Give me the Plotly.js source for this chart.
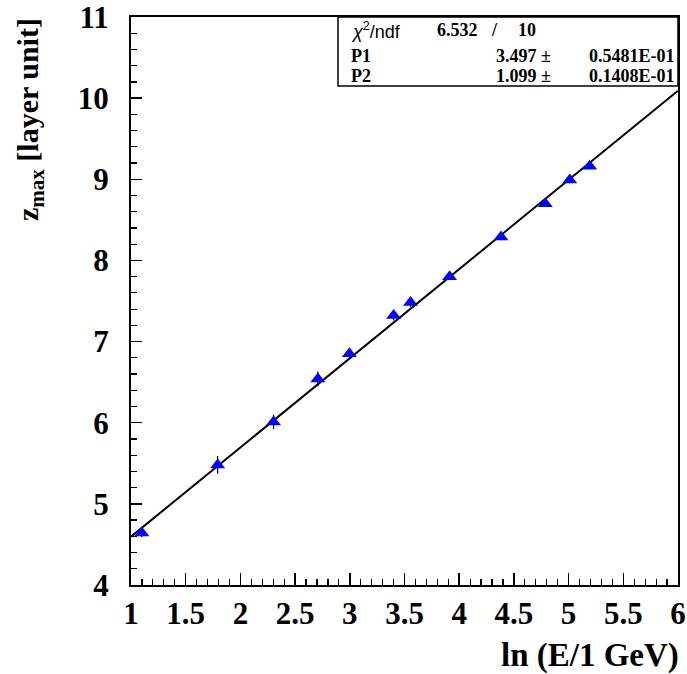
<!DOCTYPE html>
<html>
<head>
<meta charset="utf-8">
<script src="https://cdn.plot.ly/plotly-3.0.1.min.js"></script>
<style>html,body{margin:0;padding:0;background:#fff;}#chart{width:687px;height:674px;}</style>
</head>
<body>
<div id="chart"></div>
<script>
// ---- data ----
const lnE   = [1.099, 1.792, 2.303, 2.708, 2.996, 3.401, 3.555, 3.912, 4.382, 4.787, 5.011, 5.193];
const zmax  = [4.64, 5.48, 6.01, 6.54, 6.85, 7.32, 7.48, 7.80, 8.29, 8.70, 8.99, 9.16];
const zerr  = [0.05, 0.11, 0.09, 0.09, 0.07, 0.06, 0.05, 0.04, 0.04, 0.03, 0.03, 0.03];
const fitP1 = 3.497, fitP2 = 1.099;
const fitRange = [1, 6];
const statLabels = ["χ²/ndf", "P1", "P2"];
const statValues = ["6.532", "3.497 ±", "1.099 ±"];
const statErrors = ["10", "0.5481E-01", "0.1408E-01"];

// ---- layout helpers ----
const W = 687, H = 674;
const mL = 131, mR = 9, mT = 17, mB = 89;
const pw = W - mL - mR, ph = H - mT - mB;
const px = x => (x - mL) / pw;
const py = y => (H - mB - y) / ph;

const serifB = {family: "Liberation Serif, Times New Roman, serif", color: "#000", weight: "bold"};

const fitY = fitRange.map(x => fitP1 + fitP2 * x);

const traces = [
  {
    x: fitRange, y: fitY, type: "scatter", mode: "lines",
    line: {color: "#000", width: 2}, hoverinfo: "skip", showlegend: false
  },
  {
    x: lnE, y: zmax, type: "scatter", mode: "markers",
    marker: {symbol: "triangle-up", size: 13, color: "#0000ff"},
    error_y: {type: "data", array: zerr, visible: true, color: "#000", thickness: 1.2, width: 0},
    showlegend: false
  }
];

const ann = [];
function txt(text, xp, yp, anchor, font) {
  ann.push({text: text, x: px(xp), y: py(yp), xref: "paper", yref: "paper",
    xanchor: anchor, yanchor: "middle", showarrow: false, font: font});
}
const statFont = Object.assign({}, serifB, {size: 18});
const sansFont = {family: "Liberation Sans, Arial, sans-serif", size: 18, color: "#000"};
const rowsY = [30, 56, 76];
txt("<i>χ</i><sup>2</sup>/ndf", 349, rowsY[0], "left", sansFont);
txt(statValues[0], 435, rowsY[0], "left", statFont);
txt("/", 494, rowsY[0], "center", statFont);
txt(statErrors[0], 516, rowsY[0], "left", statFont);
txt(statLabels[1], 349, rowsY[1], "left", statFont);
txt(statLabels[2], 349, rowsY[2], "left", statFont);
txt(statValues[1], 494, rowsY[1], "left", statFont);
txt(statValues[2], 494, rowsY[2], "left", statFont);
txt(statErrors[1], 587, rowsY[1], "left", statFont);
txt(statErrors[2], 587, rowsY[2], "left", statFont);

// axis titles
ann.push({text: "ln (E/1 GeV)", x: px(681), y: py(655), xref: "paper", yref: "paper",
  xanchor: "right", yanchor: "middle", showarrow: false, font: Object.assign({}, serifB, {size: 33})});
ann.push({text: "z<sub>max</sub> [layer unit]", x: px(30), y: py(120), xref: "paper", yref: "paper",
  xanchor: "center", yanchor: "middle", textangle: -90, showarrow: false,
  font: Object.assign({}, serifB, {size: 30})});

const layout = {
  width: W, height: H,
  margin: {l: mL, r: mR, t: mT, b: mB, pad: 0},
  paper_bgcolor: "#fff", plot_bgcolor: "#fff",
  showlegend: false,
  xaxis: {
    range: [1, 6], dtick: 0.5, tick0: 1, ticks: "inside", ticklen: 12, tickwidth: 1.5, tickcolor: "#000",
    minor: {dtick: 0.1, ticks: "inside", ticklen: 6, tickwidth: 1.2, tickcolor: "#000", showgrid: false},
    showline: true, mirror: true, linecolor: "#000", linewidth: 2,
    showgrid: false, zeroline: false, ticklabelstandoff: 0, ticklabeloverflow: "allow",
    tickfont: Object.assign({}, serifB, {size: 31})
  },
  yaxis: {
    range: [4, 11], dtick: 1, tick0: 4, ticks: "inside", ticklen: 11, tickwidth: 1.5, tickcolor: "#000",
    minor: {dtick: 0.2, ticks: "inside", ticklen: 6, tickwidth: 1.2, tickcolor: "#000", showgrid: false},
    showline: true, mirror: true, linecolor: "#000", linewidth: 2,
    showgrid: false, zeroline: false, ticklabelstandoff: 14, ticklabeloverflow: "allow",
    tickfont: Object.assign({}, serifB, {size: 31})
  },
  shapes: [
    {type: "rect", xref: "paper", yref: "paper", x0: px(338), x1: 1, y0: py(86), y1: 1,
     line: {color: "#000", width: 1.5}, fillcolor: "#fff", layer: "above"}
  ],
  annotations: ann
};

Plotly.newPlot("chart", traces, layout, {staticPlot: true, displayModeBar: false});
</script>
</body>
</html>
